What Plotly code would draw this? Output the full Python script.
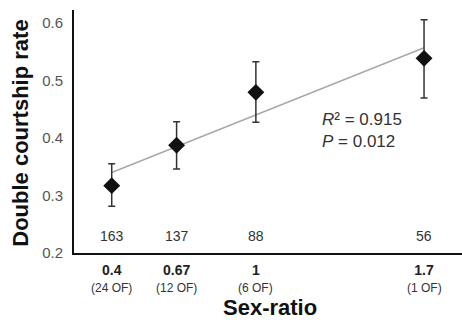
import numpy as np
import plotly.graph_objects as go

sex_ratio = [0.4, 0.67, 1.0, 1.7]
tick_labels = ["0.4", "0.67", "1", "1.7"]
of_labels = ["(24 OF)", "(12 OF)", "(6 OF)", "(1 OF)"]
rate = [0.317, 0.387, 0.479, 0.538]
err_plus = [0.038, 0.041, 0.053, 0.067]
err_minus = [0.036, 0.041, 0.052, 0.069]
n_obs = ["163", "137", "88", "56"]

slope, intercept = np.polyfit(sex_ratio, rate, 1)
fit_x = [min(sex_ratio), max(sex_ratio)]
fit_y = [slope * v + intercept for v in fit_x]

fig = go.Figure()
fig.add_trace(go.Scatter(x=fit_x, y=fit_y, mode="lines",
                         line=dict(color="#a8a8a8", width=1.5), showlegend=False))
fig.add_trace(go.Scatter(
    x=sex_ratio, y=rate, mode="markers",
    marker=dict(symbol="diamond", size=13, color="#111111"),
    error_y=dict(type="data", symmetric=False, array=err_plus, arrayminus=err_minus,
                 color="#333333", thickness=1.5, width=3.5),
    showlegend=False))

font = "Liberation Sans, Arial, sans-serif"
annotations = []
for xv, n in zip(sex_ratio, n_obs):
    annotations.append(dict(x=xv, y=0.230, xref="x", yref="y", text=n, showarrow=False,
                            yanchor="middle",
                            font=dict(family=font, size=14, color="#333333")))
for xv, t in zip(sex_ratio, of_labels):
    annotations.append(dict(x=xv, y=-0.142, xref="x", yref="paper", text=t, showarrow=False,
                            yanchor="middle",
                            font=dict(family=font, size=12, color="#333333")))
annotations.append(dict(x=1.267, y=0.412, xref="x", yref="y", xanchor="left", yanchor="middle",
                        text="<i>R</i>² = 0.915<br><i>P</i> = 0.012", showarrow=False, align="left",
                        font=dict(family=font, size=17, color="#333333")))
annotations.append(dict(x=0.505, y=-0.224, xref="paper", yref="paper", text="<b>Sex-ratio</b>",
                        xanchor="center", yanchor="middle",
                        showarrow=False, font=dict(family=font, size=22, color="#111111")))
annotations.append(dict(x=-0.1366, y=0.495, xref="paper", yref="paper", text="<b>Double courtship rate</b>",
                        xanchor="center", yanchor="middle",
                        textangle=-90, showarrow=False, font=dict(family=font, size=22, color="#111111")))

fig.update_layout(
    width=462, height=327,
    margin=dict(l=74, r=0, t=10, b=74),
    paper_bgcolor="white", plot_bgcolor="white",
    annotations=annotations,
    xaxis=dict(range=[0.243, 1.858], showgrid=False, zeroline=False,
               showline=True, linecolor="#111111", linewidth=2,
               tickmode="array", tickvals=sex_ratio,
               ticktext=["<b>" + t + "</b>" for t in tick_labels],
               ticks="", ticklabelstandoff=3,
               tickfont=dict(family=font, size=14, color="#222222")),
    yaxis=dict(range=[0.2, 0.622], showgrid=False, zeroline=False,
               showline=True, linecolor="#111111", linewidth=2,
               tickmode="array", tickvals=[0.2, 0.3, 0.4, 0.5, 0.6],
               ticktext=["0.2", "0.3", "0.4", "0.5", "0.6"],
               ticks="", ticklabelstandoff=6,
               tickfont=dict(family=font, size=15, color="#555555")),
)
fig.write_html("out.html")
